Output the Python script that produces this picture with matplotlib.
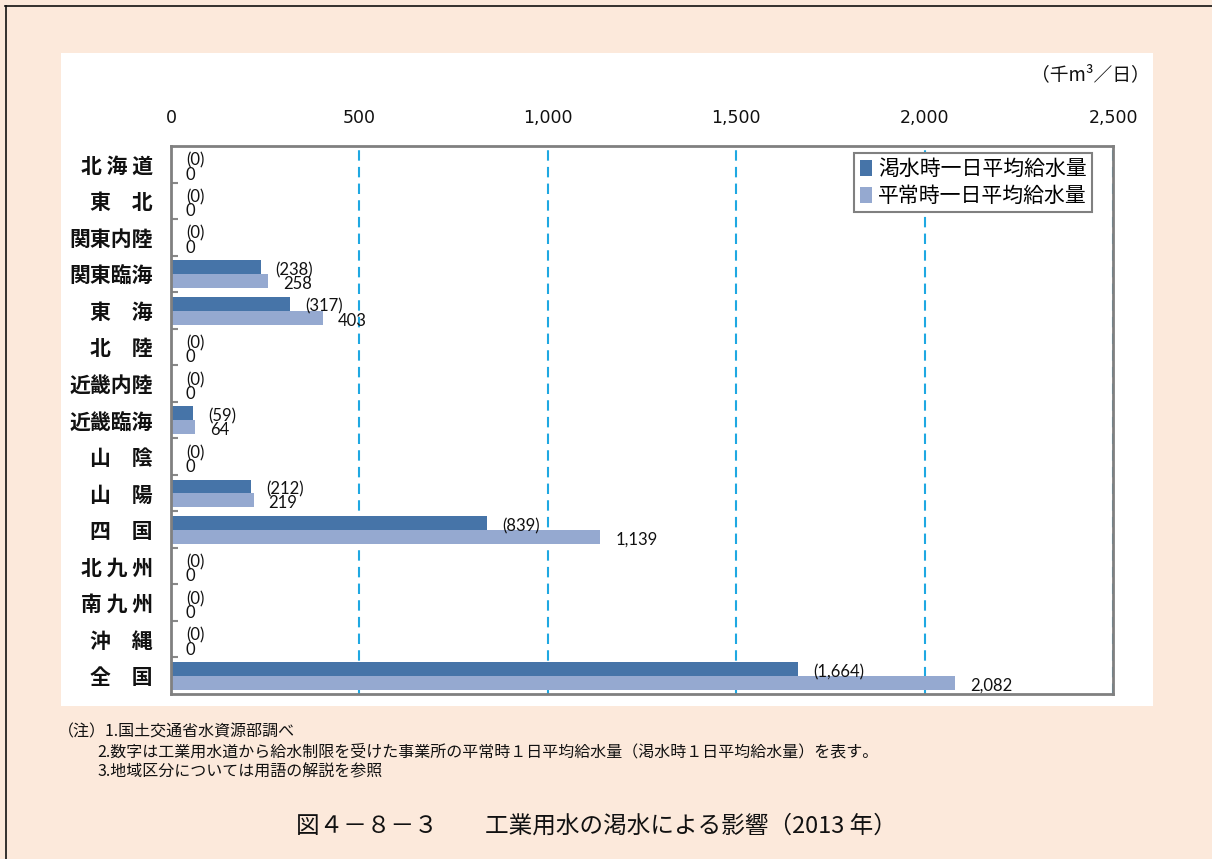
import matplotlib
matplotlib.use("Agg")
import matplotlib.pyplot as plt
from matplotlib.patches import Rectangle
from matplotlib.lines import Line2D
from matplotlib.ticker import FuncFormatter, FixedLocator

plt.rcParams['font.family'] = ['Noto Sans CJK JP', 'DejaVu Sans']

# Regions (top to bottom)
regions = ["北 海 道", "東　北", "関東内陸", "関東臨海", "東　海", "北　陸", "近畿内陸",
           "近畿臨海", "山　陰", "山　陽", "四　国", "北 九 州", "南 九 州", "沖　縄", "全　国"]
# Daily average supply during drought (thousand m3/day)
drought = [0, 0, 0, 238, 317, 0, 0, 59, 0, 212, 839, 0, 0, 0, 1664]
# Daily average supply in normal times (thousand m3/day)
normal = [0, 0, 0, 258, 403, 0, 0, 64, 0, 219, 1139, 0, 0, 0, 2082]
xticks = [0, 500, 1000, 1500, 2000, 2500]
series_names = ["渇水時一日平均給水量", "平常時一日平均給水量"]

W, H = 1212, 859
fig = plt.figure(figsize=(W / 100, H / 100), dpi=100)
fig.patch.set_facecolor("#FCE9DB")

# white chart panel
fig.add_artist(Rectangle((61 / W, 1 - 706 / H), (1153 - 61) / W, (706 - 53) / H,
                         transform=fig.transFigure, facecolor="white", edgecolor="none", zorder=0))
# outer frame lines (top and left)
fig.add_artist(Line2D([5 / W, 1], [1 - 5.5 / H, 1 - 5.5 / H], transform=fig.transFigure,
                      color="#111111", lw=1.2))
fig.add_artist(Line2D([6 / W, 6 / W], [0, 1 - 5.5 / H], transform=fig.transFigure,
                      color="#111111", lw=1.2))

ax = fig.add_axes([171 / W, 1 - 694 / H, (1113 - 171) / W, (694 - 146) / H])
ax.set_facecolor("white")

dark = "#4674A8"
light = "#95A9D0"
bh = 0.38
ys = list(range(len(regions)))
ax.barh([y - 0.18 for y in ys], drought, height=bh, color=dark, zorder=2, label=series_names[0])
ax.barh([y + 0.20 for y in ys], normal, height=bh, color=light, zorder=2, label=series_names[1])

for y, d, n in zip(ys, drought, normal):
    ax.annotate(f"({d:,})", xy=(d, y - 0.18), xytext=(15, -3), textcoords="offset pixels",
                ha="left", va="center", fontsize=12, family="Lato", color="#111111", zorder=4)
    ax.annotate(f"{n:,}", xy=(n, y + 0.20), xytext=(15, -3), textcoords="offset pixels",
                ha="left", va="center", fontsize=12, family="Lato", color="#111111", zorder=4)

ax.set_xlim(0, 2500)
ax.set_ylim(len(regions) - 0.5, -0.5)

ax.xaxis.set_major_locator(FixedLocator(xticks))
ax.xaxis.set_major_formatter(FuncFormatter(lambda v, p: f"{int(v):,}"))
ax.tick_params(axis="x", top=True, bottom=False, labeltop=True, labelbottom=False,
               length=0, pad=14, labelsize=12.5, labelcolor="#111111")
for lab in ax.get_xticklabels():
    lab.set_family("DejaVu Sans")

ax.set_yticks(ys)
ax.set_yticklabels(regions, fontsize=15, fontweight="bold", color="#111111")
ax.tick_params(axis="y", length=0, pad=13)
ax.yaxis.set_minor_locator(FixedLocator([y + 0.5 for y in ys[:-1]]))
ax.tick_params(axis="y", which="minor", direction="in", length=5, width=1.5, color="#888888")

ax.grid(axis="x", color="#1FA8E2", linestyle=(0, (5, 3)), linewidth=1.5, zorder=1)
ax.set_axisbelow(True)
for s in ax.spines.values():
    s.set_color("#808080")
    s.set_linewidth(2)

leg = ax.legend(loc="upper right", bbox_to_anchor=(0.978, 0.988), borderaxespad=0,
                fontsize=15, handlelength=0.6, handleheight=0.8, handletextpad=0.3,
                labelspacing=0.25, borderpad=0.25, fancybox=False, framealpha=1)
leg.get_frame().set_edgecolor("#808080")
leg.get_frame().set_linewidth(1.5)

fig.text(1150 / W, 1 - 75 / H, "（千m³／日）", ha="right", va="center", fontsize=13.5, color="#111111")

fig.text(58 / W, 1 - 732 / H, "（注）1.国土交通省水資源部調べ", ha="left", va="center", fontsize=11.5, color="#111111")
fig.text(97 / W, 1 - 752 / H,
         "2.数字は工業用水道から給水制限を受けた事業所の平常時１日平均給水量（渇水時１日平均給水量）を表す。",
         ha="left", va="center", fontsize=11.5, color="#111111")
fig.text(97 / W, 1 - 772 / H, "3.地域区分については用語の解説を参照", ha="left", va="center",
         fontsize=11.5, color="#111111")

fig.text(596 / W, 1 - 826 / H, "図４－８－３　　工業用水の渇水による影響（2013 年）", ha="center",
         va="center", fontsize=17, color="#111111")

fig.savefig("out.png", dpi=100, facecolor=fig.get_facecolor())
